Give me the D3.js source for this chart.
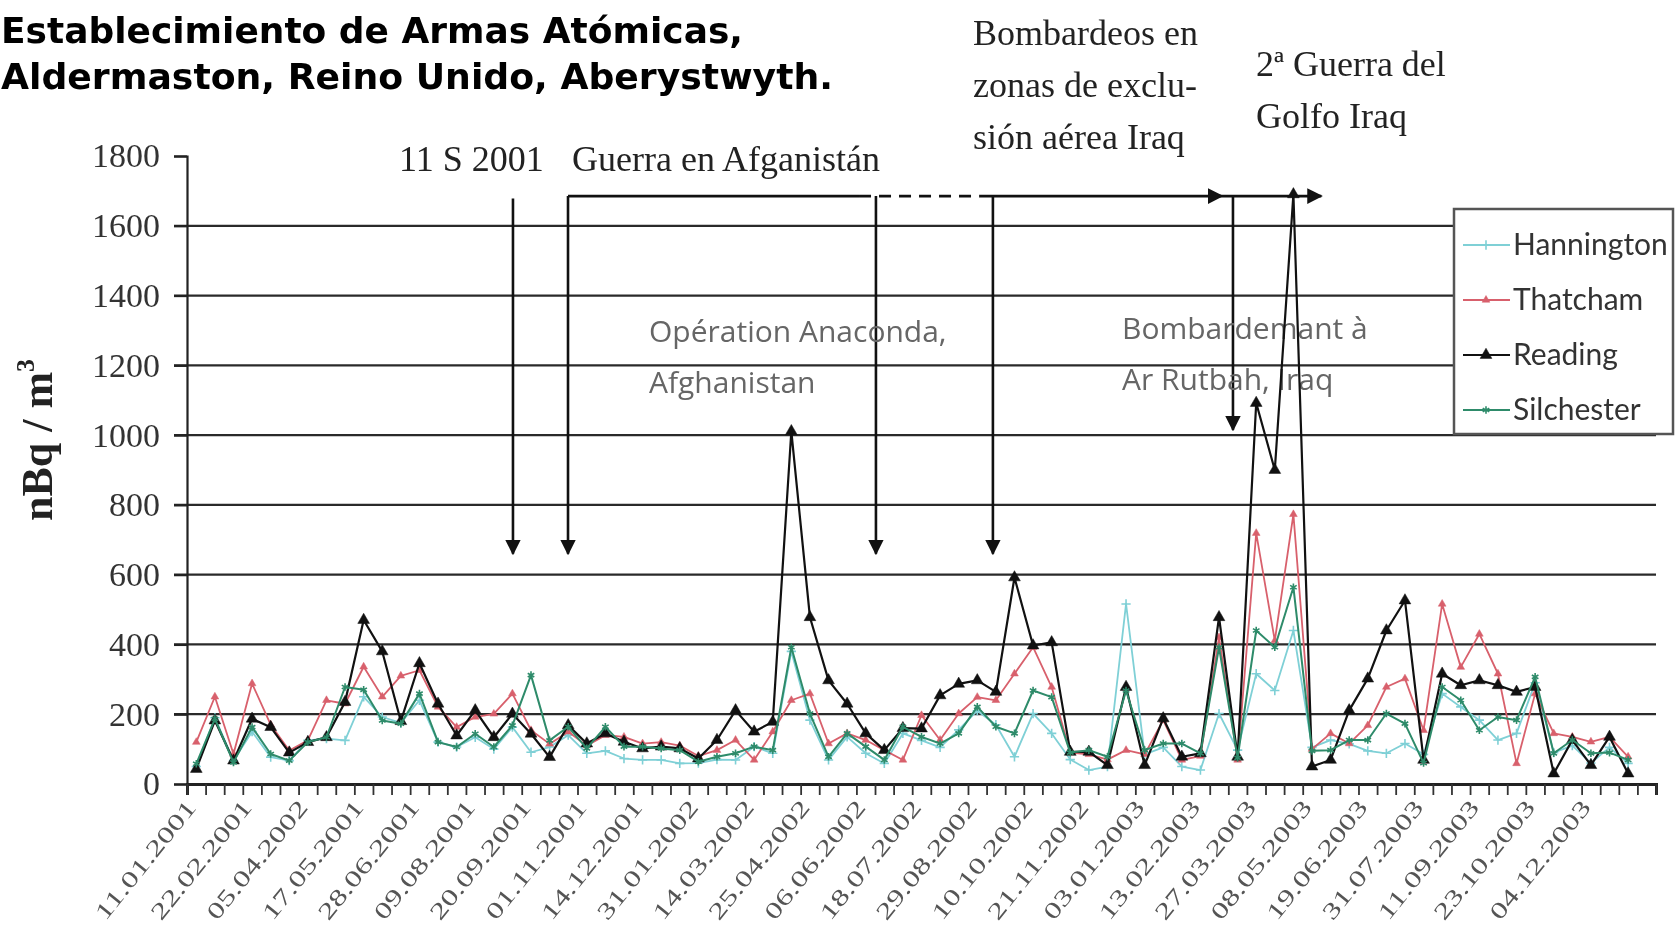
<!DOCTYPE html>
<html>
<head>
<meta charset="utf-8">
<script src="https://cdn.jsdelivr.net/npm/d3@7"></script>
<style>
  html, body { margin: 0; padding: 0; background: #fff; overflow: hidden; }
  #chart svg { display: block; }
</style>
</head>
<body>
<div id="chart"></div>
<script>
'use strict';

// tick labels, one every 3 fortnightly samples
const dateLabels = ['11.01.2001','22.02.2001','05.04.2002','17.05.2001','28.06.2001','09.08.2001',
  '20.09.2001','01.11.2001','14.12.2001','31.01.2002','14.03.2002','25.04.2002','06.06.2002',
  '18.07.2002','29.08.2002','10.10.2002','21.11.2002','03.01.2003','13.02.2003','27.03.2003',
  '08.05.2003','19.06.2003','31.07.2003','11.09.2003','23.10.2003','04.12.2003']
const labelStep = 3
const nCategories = 79
const yTicks = [0, 200, 400, 600, 800, 1000, 1200, 1400, 1600, 1800]

// series values, nBq / m3
const hannington = [50,190,67,150,77,67,125,130,125,250,192,175,240,120,106,134,100,163,91,106,
  140,88,95,73,69,69,59,60,70,69,107,88,380,183,69,135,88,59,145,125,
  105,155,210,170,78,202,145,70,40,50,516,85,105,50,40,202,97,316,268,440,
  105,126,115,95,88,116,85,259,221,183,126,145,290,90,110,60,105,59]
const thatcham = [120,250,86,288,170,96,125,240,230,336,250,310,326,221,163,192,201,259,154,115,
  150,110,140,135,116,120,110,80,97,126,69,150,240,259,116,145,126,97,69,197,
  126,202,249,240,316,392,278,90,85,70,97,85,183,69,80,420,69,719,411,773,
  100,145,116,168,278,302,154,516,335,430,316,59,259,145,135,121,135,78]
const reading = [43,182,67,187,163,90,120,134,235,470,380,180,346,230,139,211,134,201,144,77,
  168,116,145,121,102,107,102,73,126,211,150,178,1011,478,297,230,145,97,160,159,
  254,287,297,264,592,397,406,92,92,54,278,54,188,78,88,478,78,1092,900,1690,
  50,69,211,302,440,526,69,316,283,297,283,264,278,30,126,54,135,30]
const silchester = [58,187,62,163,86,67,120,134,278,270,182,173,259,120,106,144,106,168,312,125,
  164,102,164,107,107,102,97,64,78,88,107,97,392,202,78,145,107,69,164,135,
  116,145,221,164,145,268,249,90,97,78,268,97,116,116,88,392,75,440,392,564,
  95,97,126,126,202,173,60,278,240,154,192,183,307,88,126,88,90,69]

const seriesNames = ['Hannington', 'Thatcham', 'Reading', 'Silchester']
const seriesValues = [hannington, thatcham, reading, silchester]

const styles = {
  Hannington: { color: '#7fd0d6', width: 1.8, symbol: d3.symbolPlus, size: 30, filled: false },
  Thatcham: { color: '#d8606c', width: 1.8, symbol: d3.symbolTriangle, size: 26, filled: true },
  Reading: { color: '#111111', width: 2.2, symbol: d3.symbolTriangle, size: 60, filled: true },
  Silchester: { color: '#2e8b6a', width: 2, symbol: d3.symbolAsterisk, size: 40, filled: false }
}

const width = 1676
const height = 947

const svg = d3.select('#chart')
  .append('svg')
  .attr('width', width)
  .attr('height', height)
  .style('filter', 'blur(0.6px)')

// arrow heads
const defs = svg.append('defs')
defs.append('marker')
  .attr('id', 'arrow')
  .attr('viewBox', '0 0 10 10')
  .attr('refX', 9)
  .attr('refY', 5)
  .attr('markerWidth', 6)
  .attr('markerHeight', 6)
  .attr('markerUnits', 'strokeWidth')
  .attr('orient', 'auto')
  .append('path')
  .attr('d', 'M0,0 L10,5 L0,10 Z')
  .attr('fill', '#111')

// scales
const xScale = d3.scaleLinear()
  .domain([0, nCategories])
  .range([187, 1656])
const yScale = d3.scaleLinear()
  .domain([0, 1800])
  .range([784, 156])
const cx = i => xScale(i + 0.5)

// title
const title = svg.append('g')
  .style('font-family', '"DejaVu Sans", Verdana, sans-serif')
  .style('font-weight', 'bold')
  .style('font-size', '35px')
  .attr('fill', '#000')
title.append('text')
  .attr('x', 1)
  .attr('y', 43)
  .attr('textLength', 742)
  .attr('lengthAdjust', 'spacingAndGlyphs')
  .text('Establecimiento de Armas Atómicas,')
title.append('text')
  .attr('x', 1)
  .attr('y', 89)
  .attr('textLength', 832)
  .attr('lengthAdjust', 'spacingAndGlyphs')
  .text('Aldermaston, Reino Unido, Aberystwyth.')

// gridlines
svg.append('g')
  .selectAll('line')
  .data(yTicks.filter(d => d > 0 && d < 1800))
  .join('line')
  .attr('x1', 174)
  .attr('x2', xScale(nCategories))
  .attr('y1', d => yScale(d))
  .attr('y2', d => yScale(d))
  .attr('stroke', '#2a2a2a')
  .attr('stroke-width', 2.2)

// y axis
const yAxisGroup = svg.append('g')
  .attr('transform', `translate(${xScale(0)},0)`)
  .call(d3.axisLeft(yScale).tickValues(yTicks).tickSize(13).tickPadding(14).tickFormat(d3.format('d')))
yAxisGroup.select('.domain').attr('stroke', '#222').attr('stroke-width', 2.2)
yAxisGroup.selectAll('.tick line').attr('stroke', '#222').attr('stroke-width', 2.2)
yAxisGroup.selectAll('.tick text')
  .style('font-family', '"Liberation Serif", "Times New Roman", serif')
  .style('font-size', '34px')
  .attr('fill', '#333')

// y title
svg.append('text')
  .attr('transform', 'translate(52, 440) rotate(-90)')
  .attr('text-anchor', 'middle')
  .style('font-family', '"Liberation Serif", serif')
  .style('font-weight', 'bold')
  .style('font-size', '44px')
  .attr('fill', '#222')
  .text('nBq / m')
  .append('tspan')
  .attr('dy', -18)
  .style('font-size', '26px')
  .text('3')

// x axis: ticks at every category boundary
const xAxisGroup = svg.append('g')
  .attr('transform', `translate(0,${yScale(0)})`)
  .call(d3.axisBottom(xScale).tickValues(d3.range(0, nCategories + 1)).tickSize(11).tickFormat(''))
xAxisGroup.select('.domain').attr('stroke', '#222').attr('stroke-width', 3)
xAxisGroup.selectAll('.tick line').attr('stroke', '#333').attr('stroke-width', 1.8)

// rotated date labels
svg.append('g')
  .style('font-family', '"Liberation Serif", serif')
  .style('font-size', '23px')
  .attr('fill', '#555')
  .selectAll('text')
  .data(dateLabels)
  .join('text')
  .attr('text-anchor', 'end')
  .attr('textLength', 146)
  .attr('lengthAdjust', 'spacingAndGlyphs')
  .attr('transform', (d, k) => `translate(${cx(k * labelStep) + 1}, 808) rotate(-51)`)
  .text(d => d)

// event arrows and periods
const ann = svg.append('g')
  .attr('stroke', '#111')
  .attr('stroke-width', 2.6)
  .attr('fill', 'none')
const topLine = 1685
const vArrows = [[17.53, 1678, 660], [20.49, topLine, 660], [37.05, topLine, 660], [43.34, topLine, 660], [56.25, topLine, 1015]]
ann.selectAll('line.v')
  .data(vArrows)
  .join('line')
  .attr('class', 'v')
  .attr('x1', d => xScale(d[0]))
  .attr('x2', d => xScale(d[0]))
  .attr('y1', d => yScale(d[1]))
  .attr('y2', d => yScale(d[2]))
  .attr('marker-end', 'url(#arrow)')
ann.append('line')
  .attr('x1', xScale(20.49)).attr('x2', xScale(36.14))
  .attr('y1', yScale(topLine)).attr('y2', yScale(topLine))
ann.append('line')
  .attr('x1', xScale(36.14)).attr('x2', xScale(42.6))
  .attr('y1', yScale(topLine)).attr('y2', yScale(topLine))
  .attr('stroke-dasharray', '12 8')
ann.append('line')
  .attr('x1', xScale(42.6)).attr('x2', xScale(55.66))
  .attr('y1', yScale(topLine)).attr('y2', yScale(topLine))
  .attr('marker-end', 'url(#arrow)')
ann.append('line')
  .attr('x1', xScale(55.66)).attr('x2', xScale(61.0))
  .attr('y1', yScale(topLine)).attr('y2', yScale(topLine))
  .attr('marker-end', 'url(#arrow)')

// serif event labels
const serifNotes = svg.append('g')
  .style('font-family', '"Liberation Serif", serif')
  .style('font-size', '36px')
  .attr('fill', '#222')
serifNotes.append('text').attr('x', 399).attr('y', 171).text('11 S 2001')
serifNotes.append('text').attr('x', 572).attr('y', 171).text('Guerra en Afganistán')
const bomb = serifNotes.append('text').attr('x', 973).attr('y', 45)
bomb.append('tspan').attr('x', 973).attr('dy', 0).text('Bombardeos en')
bomb.append('tspan').attr('x', 973).attr('dy', 52).text('zonas de exclu-')
bomb.append('tspan').attr('x', 973).attr('dy', 52).text('sión aérea Iraq')
const golfo = serifNotes.append('text').attr('x', 1256).attr('y', 76)
golfo.append('tspan').attr('x', 1256).attr('dy', 0).text('2ª Guerra del')
golfo.append('tspan').attr('x', 1256).attr('dy', 52).text('Golfo Iraq')

// grey sans notes
const sansNotes = svg.append('g')
  .style('font-family', '"Open Sans", sans-serif')
  .style('font-size', '30px')
  .attr('fill', '#666')
const ana = sansNotes.append('text').attr('x', 649).attr('y', 342)
ana.append('tspan').attr('x', 649).attr('dy', 0).text('Opération Anaconda,')
ana.append('tspan').attr('x', 649).attr('dy', 51).text('Afghanistan')
const rut = sansNotes.append('text').attr('x', 1122).attr('y', 339)
rut.append('tspan').attr('x', 1122).attr('dy', 0).text('Bombardemant à')
rut.append('tspan').attr('x', 1122).attr('dy', 51).text('Ar Rutbah, Iraq')

// series lines and markers
const line = d3.line()
  .x((d, i) => cx(i))
  .y(d => yScale(d))
seriesNames.forEach((name, s) => {
  const st = styles[name]
  const g = svg.append('g')
  g.append('path')
    .datum(seriesValues[s])
    .attr('d', line)
    .attr('fill', 'none')
    .attr('stroke', st.color)
    .attr('stroke-width', st.width)
    .attr('stroke-linejoin', 'round')
  g.selectAll('path.m')
    .data(seriesValues[s])
    .join('path')
    .attr('class', 'm')
    .attr('d', d3.symbol().type(st.symbol).size(st.size))
    .attr('transform', (d, i) => `translate(${cx(i)},${yScale(d)})`)
    .attr('fill', st.filled ? st.color : 'none')
    .attr('stroke', st.color)
    .attr('stroke-width', st.filled ? 0.5 : 1.6)
})

// legend
const legend = svg.append('g')
legend.append('rect')
  .attr('x', 1454)
  .attr('y', 209)
  .attr('width', 219)
  .attr('height', 225)
  .attr('fill', '#fff')
  .attr('stroke', '#555')
  .attr('stroke-width', 2.5)
const legendY = d3.scalePoint()
  .domain(seriesNames)
  .range([245, 410])
seriesNames.forEach(name => {
  const st = styles[name]
  const yy = legendY(name)
  legend.append('line')
    .attr('x1', 1463).attr('x2', 1510)
    .attr('y1', yy).attr('y2', yy)
    .attr('stroke', st.color)
    .attr('stroke-width', st.width)
  legend.append('path')
    .attr('d', d3.symbol().type(st.symbol).size(st.size)())
    .attr('transform', `translate(1486,${yy})`)
    .attr('fill', st.filled ? st.color : 'none')
    .attr('stroke', st.color)
    .attr('stroke-width', st.filled ? 0.5 : 1.6)
  legend.append('text')
    .attr('x', 1513)
    .attr('y', yy + 10)
    .style('font-family', 'Lato, sans-serif')
    .style('font-size', '30px')
    .attr('fill', '#333')
    .text(name)
})
</script>
</body>
</html>
